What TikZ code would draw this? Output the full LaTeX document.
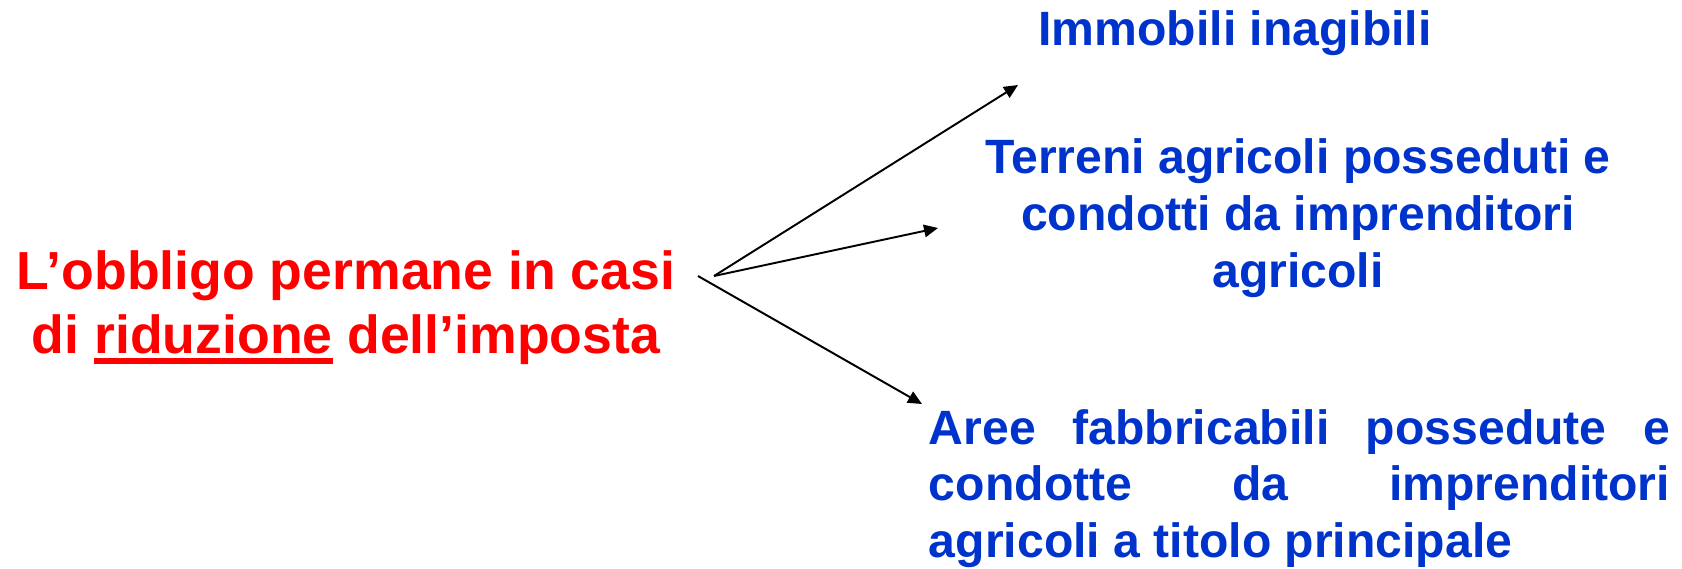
\documentclass[tikz,border=0pt]{standalone}
\usepackage{fontspec}
\setmainfont{Liberation Sans}
\usepackage{xcolor}
\usepackage{tikz}
\usetikzlibrary{positioning,arrows.meta}

\definecolor{caseblue}{RGB}{0,51,204}
\tolerance=10000
\hbadness=10000

\newcommand{\thickul}[1]{\setbox0=\hbox{#1}\rlap{\rule[-1.1mm]{\wd0}{0.6mm}}\box0\relax}

\begin{document}
\begin{tikzpicture}[x=0.1mm,y=-0.1mm,->,>={Triangle[length=1.4mm,width=1.25mm]},line width=0.55pt]

  \useasboundingbox (0,0) rectangle (1682,568);

  \tikzstyle{cause}=[text=red,inner sep=0pt,align=center,font=\fontsize{15.25}{18.07}\selectfont\bfseries]
  \tikzstyle{case}=[text=caseblue,inner sep=0pt,font=\fontsize{13.7}{16.2}\selectfont\bfseries]

  \node[cause,anchor=base] (obbligo) at (346,353) {L’obbligo permane in casi\\di \thickul{riduzione} dell’imposta};

  \node[case,anchor=base] (immobili) at (1235,45) {Immobili inagibili};
  \node[case,anchor=base,align=center] (terreni) at (1298,287) {Terreni agricoli posseduti e\\condotti da imprenditori\\agricoli};
  \node[case,anchor=base west,text width=74.1mm,align=justify] (aree) at (928,444) {Aree fabbricabili possedute e\linebreak condotte da imprenditori\linebreak agricoli a titolo principale};

  \coordinate (fork) at (714,276);
  \coordinate (forkb) at (698,276);
  \coordinate (tipimm) at (1018,85);
  \coordinate (tipterr) at (938,228);
  \coordinate (tiparee) at (922,404);

  \draw (fork) -- (tipimm);
  \draw (fork) -- (tipterr);
  \draw (forkb) -- (tiparee);

\end{tikzpicture}
\end{document}
